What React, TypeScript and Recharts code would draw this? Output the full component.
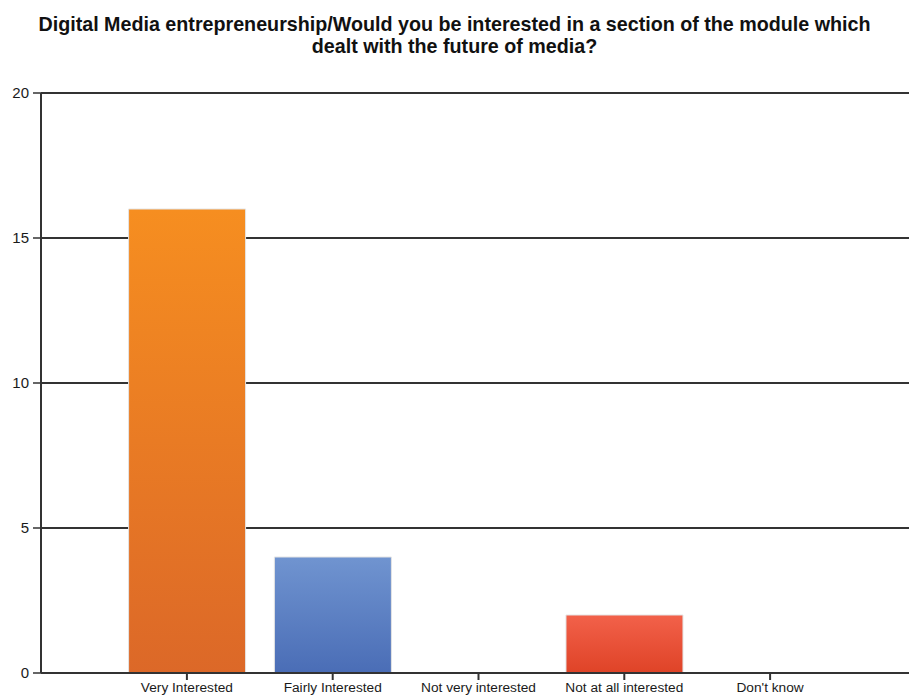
import React from "react";
import { BarChart, Bar, XAxis, YAxis, CartesianGrid, Cell } from "recharts";

const categories = ["Very Interested", "Fairly Interested", "Not very interested", "Not at all interested", "Don't know"];
const counts = [16, 4, 0, 2, 0];
const yTicks = [0, 5, 10, 15, 20];

// top / bottom gradient stops per bar
const gradients = [
  ["#f68e20", "#dc6828"],
  ["#7094d0", "#4a6db6"],
  ["#7094d0", "#4a6db6"],
  ["#f2614a", "#df4327"],
  ["#f68e20", "#dc6828"],
];

const data = categories.map((name, i) => ({ name, value: counts[i] }));

const font = '"Liberation Sans", Arial, sans-serif';

export default function App() {
  return (
    <div style={{ position: "absolute", left: 0, top: 0, width: 909, height: 698, overflow: "hidden", background: "#fff" }}>
      <div
        style={{
          position: "absolute",
          left: 0,
          top: 13,
          width: 909,
          textAlign: "center",
          fontFamily: font,
          fontWeight: "bold",
          fontSize: 19.7,
          lineHeight: "22px",
          color: "#111",
        }}
      >
        Digital Media entrepreneurship/Would you be interested in a section of the module which
        <br />
        dealt with the future of media?
      </div>
      <div style={{ position: "absolute", left: 0, top: 0 }}>
        <BarChart
          width={916}
          height={698}
          data={data}
          margin={{ top: 93, right: 0, bottom: 0, left: 0 }}
          barCategoryGap="10%"
        >
          <defs>
            {gradients.map((g, i) => (
              <linearGradient key={i} id={`grad${i}`} x1="0" y1="0" x2="0" y2="1">
                <stop offset="0%" stopColor={g[0]} />
                <stop offset="100%" stopColor={g[1]} />
              </linearGradient>
            ))}
          </defs>
          <CartesianGrid vertical={false} stroke="#333" strokeWidth={2} />
          <XAxis
            dataKey="name"
            padding={{ left: 73, right: 73 }}
            height={25}
            tickSize={7}
            tickMargin={2}
            interval={0}
            axisLine={{ stroke: "#333", strokeWidth: 2 }}
            tickLine={{ stroke: "#333", strokeWidth: 2 }}
            tick={{ fill: "#1a1a1a", fontSize: 13.7, fontFamily: font }}
          />
          <YAxis
            width={41}
            domain={[0, 20]}
            ticks={yTicks}
            tickSize={8}
            tickMargin={4}
            axisLine={{ stroke: "#333", strokeWidth: 2 }}
            tickLine={{ stroke: "#333", strokeWidth: 1.5 }}
            tick={{ fill: "#1a1a1a", fontSize: 15, fontFamily: font }}
          />
          <Bar dataKey="value" stroke="#e4e4e4" strokeWidth={1} isAnimationActive={false}>
            {data.map((_, i) => (
              <Cell key={i} fill={`url(#grad${i})`} />
            ))}
          </Bar>
        </BarChart>
      </div>
    </div>
  );
}
